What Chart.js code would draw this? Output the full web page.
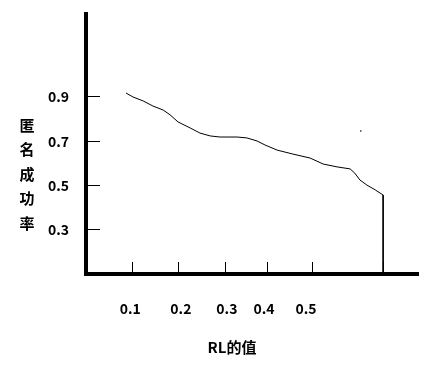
<!DOCTYPE html>
<html>
<head>
<meta charset="utf-8">
<script src="https://cdn.jsdelivr.net/npm/chart.js@4/dist/chart.umd.min.js"></script>
<style>
    html, body { margin: 0; padding: 0; background: #fff; }
    #wrap { width: 446px; height: 375px; }
</style>
</head>
<body>
<div id="wrap"><canvas id="canvas"></canvas></div>
<script>
    /* 曲线数据 (RL的值, 匿名成功率) */
    var rlValues = [0.086, 0.101, 0.123, 0.144, 0.166, 0.181, 0.198, 0.224, 0.245, 0.267,
        0.288, 0.325, 0.346, 0.368, 0.385, 0.411, 0.445, 0.482, 0.510, 0.540,
        0.568, 0.578, 0.589, 0.604, 0.622, 0.639, 0.639];
    var successRates = [0.918, 0.900, 0.882, 0.859, 0.841, 0.819, 0.787, 0.760, 0.737, 0.724,
        0.719, 0.719, 0.715, 0.701, 0.683, 0.660, 0.642, 0.624, 0.597, 0.584,
        0.575, 0.556, 0.525, 0.502, 0.480, 0.457, 0.1];

    var strayDotX = [0.591];
    var strayDotY = [0.746];

    var xTickMarks = [0.1, 0.2, 0.3, 0.391, 0.488, 0.639];
    var xTickLabelValues = [0.095, 0.204, 0.303, 0.383, 0.473];
    var xTickLabels = ["0.1", "0.2", "0.3", "0.4", "0.5"];

    var yTickValues = [0.3, 0.5, 0.7, 0.9];
    var yTickLabels = ["0.3", "0.5", "0.7", "0.9"];

    var xTitle = "RL的值";
    var yTitle = "匿名成功率";

    var fontFamily = "'Noto Sans CJK SC', 'Noto Sans', sans-serif";

    var points = [];
    for (var i = 0; i < rlValues.length; i++) {
        points.push({x: rlValues[i], y: successRates[i]});
    }
    var dots = [];
    for (var j = 0; j < strayDotX.length; j++) {
        dots.push({x: strayDotX[j], y: strayDotY[j]});
    }

    /* x轴刻度文字和两个标题自己画 */
    var textPlugin = {
        id: 'axisText',
        afterDraw: function (chart) {
            var ctx = chart.ctx;
            var xs = chart.scales.x;
            ctx.save();
            ctx.fillStyle = '#000';
            ctx.textAlign = 'center';
            ctx.textBaseline = 'middle';
            ctx.font = 'bold 14px ' + fontFamily;
            for (var k = 0; k < xTickLabels.length; k++) {
                ctx.fillText(xTickLabels[k], xs.getPixelForValue(xTickLabelValues[k]), 309);
            }
            ctx.font = 'bold 15px ' + fontFamily;
            ctx.fillText(xTitle, 232, 347);
            var chars = yTitle.split('');
            for (var c = 0; c < chars.length; c++) {
                ctx.fillText(chars[c], 27, 125 + c * 24.5);
            }
            ctx.restore();
        }
    };

    var config = {
        type: 'line',
        data: {
            datasets: [{
                data: points,
                borderColor: '#000',
                borderWidth: 1,
                pointRadius: 0,
                tension: 0,
                fill: false
            }, {
                data: dots,
                showLine: false,
                pointRadius: 0.8,
                pointBorderWidth: 0,
                pointBackgroundColor: '#000'
            }]
        },
        options: {
            responsive: false,
            animation: false,
            layout: {autoPadding: false, padding: {top: 14, right: 28, bottom: 0, left: 0}},
            plugins: {legend: {display: false}, tooltip: {enabled: false}},
            scales: {
                x: {
                    type: 'linear',
                    min: 0,
                    max: 0.714,
                    afterBuildTicks: function (scale) {
                        scale.ticks = xTickMarks.map(function (v) { return {value: v}; });
                    },
                    afterFit: function (scale) {
                        scale.height = 101;
                        scale.paddingLeft = 0;
                        scale.paddingRight = 0;
                    },
                    ticks: {display: false},
                    grid: {drawOnChartArea: false, drawTicks: true, tickLength: -12, tickColor: '#000', tickWidth: 1},
                    border: {display: true, color: '#000', width: 4}
                },
                y: {
                    type: 'linear',
                    min: 0.1,
                    max: 1.275,
                    afterBuildTicks: function (scale) {
                        scale.ticks = yTickValues.map(function (v) { return {value: v}; });
                    },
                    afterFit: function (scale) {
                        scale.width = 86;
                        scale.paddingTop = 0;
                        scale.paddingBottom = 0;
                    },
                    ticks: {
                        color: '#000',
                        padding: 31,
                        font: {family: fontFamily, size: 14, weight: 'bold'},
                        callback: function (value) {
                            var idx = yTickValues.indexOf(value);
                            return idx >= 0 ? yTickLabels[idx] : '';
                        }
                    },
                    grid: {drawOnChartArea: false, drawTicks: true, tickLength: -14, tickColor: '#000', tickWidth: 1},
                    border: {display: true, color: '#000', width: 4}
                }
            }
        },
        plugins: [textPlugin]
    };

    var canvas = document.getElementById("canvas");
    canvas.width = 446;
    canvas.height = 375;
    var ctx = canvas.getContext("2d");
    new Chart(ctx, config);
</script>
</body>
</html>
